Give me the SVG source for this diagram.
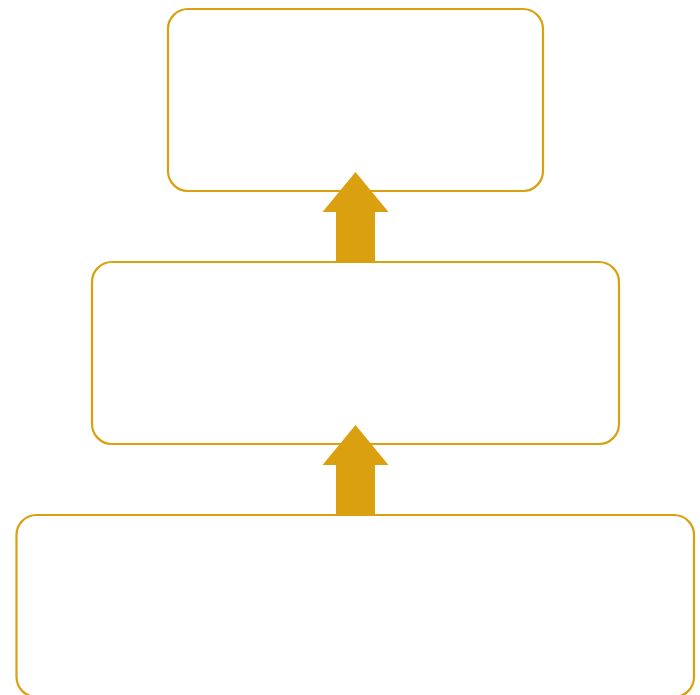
<svg xmlns="http://www.w3.org/2000/svg" width="700" height="695" viewBox="0 0 700 695">
<style>
.box{fill:#fff;stroke:#DAA010;stroke-width:2.2}
.arr{fill:#DAA010;stroke:none}
</style>
<rect width="700" height="695" fill="#fff"/>
<g id="node-top"><rect class="box" x="168" y="9" width="375" height="182" rx="20"/></g>
<g id="node-middle"><rect class="box" x="92" y="262" width="527" height="182" rx="20"/></g>
<g id="node-bottom"><rect class="box" x="16.5" y="515" width="677.5" height="182" rx="20"/></g>
<g id="connectors">
<polygon class="arr" points="336,262 336,212 322.5,212 355.5,172 388.5,212 375,212 375,262"/>
<polygon class="arr" points="336,515 336,465 322.5,465 355.5,425 388.5,465 375,465 375,515"/>
</g>
</svg>
